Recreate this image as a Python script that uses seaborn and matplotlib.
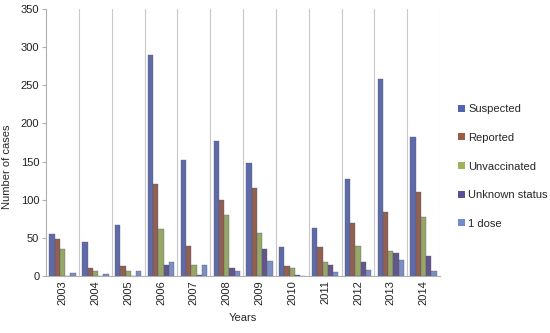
import pandas as pd
import matplotlib
matplotlib.use('Agg')
import matplotlib.pyplot as plt
import seaborn as sns
from matplotlib.patches import Patch

years = ['2003', '2004', '2005', '2006', '2007', '2008', '2009', '2010', '2011', '2012', '2013', '2014']
suspected = [55, 44, 67, 290, 152, 177, 148, 38, 63, 127, 258, 182]
reported = [48, 11, 13, 120, 40, 100, 115, 13, 38, 70, 84, 110]
unvaccinated = [35, 6, 6, 62, 14, 80, 56, 10, 19, 39, 33, 77]
unknown_status = [0, 0, 0, 14, 2, 10, 35, 2, 14, 19, 30, 26]
one_dose = [4, 3, 7, 18, 14, 7, 20, 0, 5, 8, 21, 7]

series = ['Suspected', 'Reported', 'Unvaccinated', 'Unknown status', '1 dose']
colors = ['#5263B3', '#9C5B45', '#9DB25A', '#5E4E93', '#6F8CCB']

rows = []
for name, vals in zip(series, [suspected, reported, unvaccinated, unknown_status, one_dose]):
    for y, v in zip(years, vals):
        rows.append({'Year': y, 'Series': name, 'Cases': v})
df = pd.DataFrame(rows)

sns.set_style('white')
plt.rcParams['font.family'] = ['Liberation Sans', 'DejaVu Sans']

fig = plt.figure(figsize=(5.5, 3.33), dpi=100)
ax = fig.add_axes([0.084, 0.171, 0.716, 0.802])

sns.barplot(data=df, x='Year', y='Cases', hue='Series', hue_order=series, order=years,
            palette=colors, width=0.8, edgecolor='#555577', linewidth=0.25, ax=ax,
            legend=False)

ax.set_ylim(0, 350)
ax.set_yticks(range(0, 351, 50))
ax.set_xlim(-0.5, len(years) - 0.5)
ax.set_xticks(range(len(years)))
ax.set_xticklabels(years, rotation=90)
ax.set_xticks([i + 0.5 for i in range(len(years))], minor=True)
ax.grid(False)
ax.grid(True, which='minor', axis='x', color='#c8c8c8', linewidth=0.8)
ax.tick_params(axis='both', which='major', labelsize=8, colors='#222222', length=0, pad=3)
ax.tick_params(axis='y', length=3, color='#b0b0b0', direction='out', left=True, pad=2)
ax.tick_params(axis='x', which='minor', length=0)

for side in ['top', 'right']:
    ax.spines[side].set_visible(False)
for side in ['left', 'bottom']:
    ax.spines[side].set_color('#b0b0b0')
    ax.spines[side].set_linewidth(0.8)

ax.set_xlabel('Years', fontsize=8, labelpad=6)
ax.set_ylabel('Number of cases', fontsize=8)
ax.yaxis.set_label_coords(-0.088, 0.41)

handles = [Patch(facecolor=c, edgecolor='none', label=s) for s, c in zip(series, colors)]
fig.legend(handles=handles, loc='center left', bbox_to_anchor=(0.815, 0.5), frameon=False,
           fontsize=8, handlelength=0.6, handleheight=0.6, handletextpad=0.3, labelspacing=1.68)

fig.savefig('out.png', dpi=100)
